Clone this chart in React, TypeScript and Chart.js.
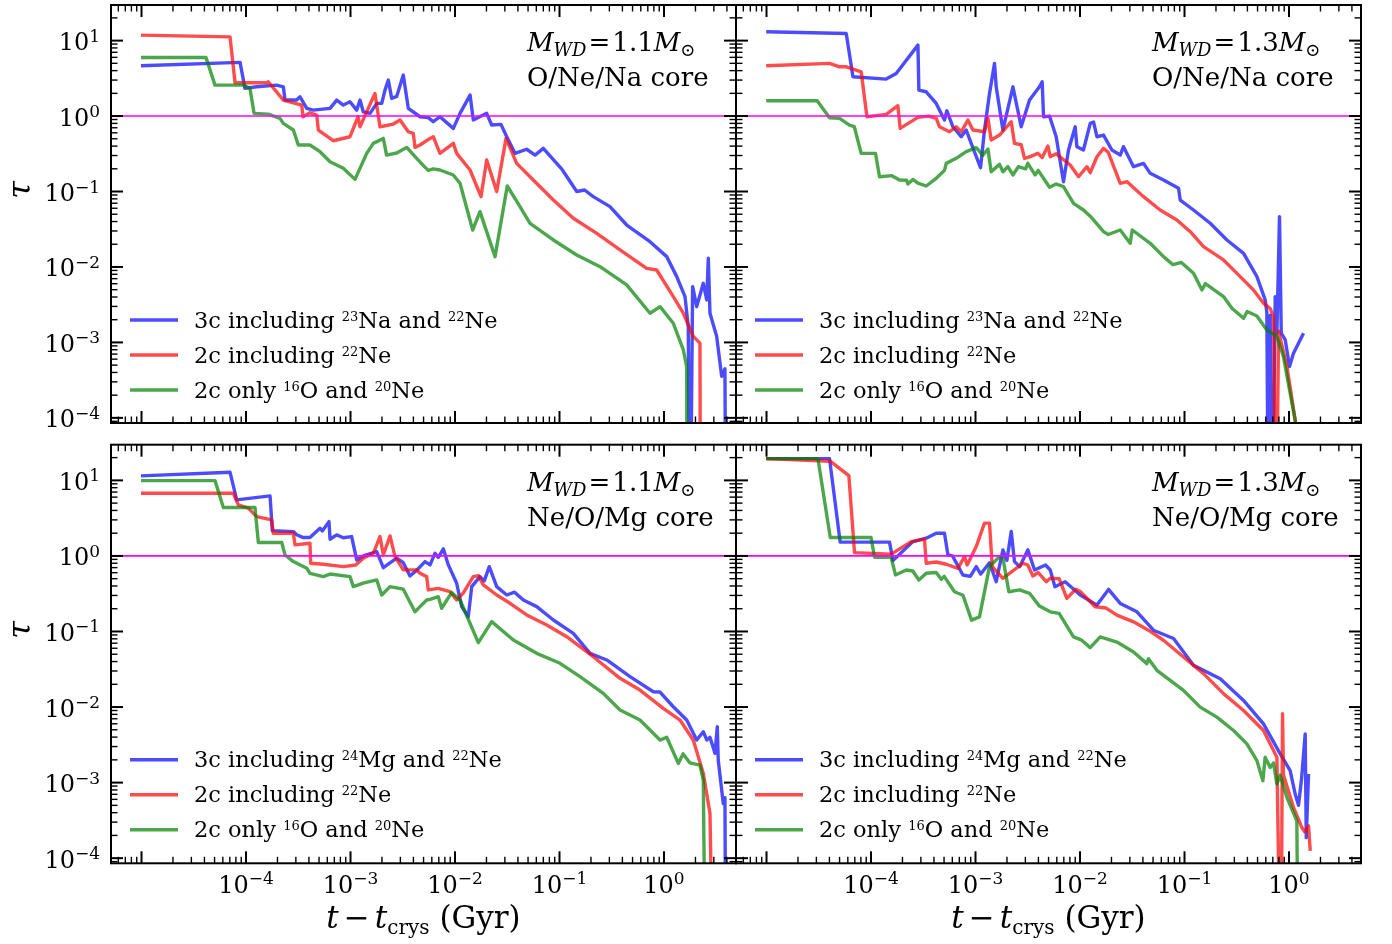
import React, { useEffect, useRef } from "react";
import { Chart, registerables } from "chart.js";

Chart.register(...registerables);

const PAGE_W = 1392;
const PAGE_H = 944;
const FONT = "'DejaVu Serif', 'Liberation Serif', serif";
const LINE_W = 3.4;

// Axis limits (log10 of t in Gyr and of tau)
const X_LOG_MIN = -5.292;
const X_LOG_MAX = 0.689;
const Y_LOG_MIN = -4.068;
const Y_LOG_MAX = 1.472;

const X_TICK_EXPONENTS = [-4, -3, -2, -1, 0];
const Y_TICK_EXPONENTS = [1, 0, -1, -2, -3, -4];
const TAU_REFERENCE = 1;

// Data: pairs of [log10(t - t_crys / Gyr), log10(tau)].
// Values below the axis (-6) mark the curves dropping out of the frame.
type P = [number, number];

// ---- top left: 1.1 Msun, O/Ne/Na core ----
const tlBlue: P[] = [
  [-5.005, 0.666], [-4.057, 0.711], [-4.01, 0.367], [-3.898, 0.388], [-3.706, 0.41], [-3.643, 0.388],
  [-3.627, 0.212], [-3.515, 0.212], [-3.483, 0.256], [-3.419, 0.102], [-3.356, 0.079], [-3.196, 0.102],
  [-3.132, 0.212], [-3.069, 0.146], [-3.005, 0.19], [-2.941, 0.079], [-2.909, 0.212], [-2.878, 0.057],
  [-2.813, 0.036], [-2.749, 0.168], [-2.701, 0.168], [-2.67, 0.344], [-2.638, 0.477], [-2.606, 0.234],
  [-2.558, 0.26], [-2.495, 0.543], [-2.447, 0.102], [-2.335, -0.009], [-2.256, -0.02], [-2.208, -0.075],
  [-2.144, -0.009], [-2.016, -0.163], [-1.952, 0.036], [-1.856, 0.278], [-1.825, -0.053], [-1.697, 0.036],
  [-1.649, -0.119], [-1.56, -0.11], [-1.505, -0.274], [-1.426, -0.494], [-1.314, -0.44], [-1.234, -0.517],
  [-1.155, -0.428], [-1.027, -0.627], [-0.98, -0.7], [-0.95, -0.76], [-0.835, -1.0], [-0.76, -0.98],
  [-0.677, -1.068], [-0.517, -1.2], [-0.357, -1.444], [-0.134, -1.665], [0.026, -1.863], [0.122, -2.128],
  [0.201, -2.393], [0.232, -2.79], [0.249, -6], [0.274, -2.26], [0.313, -2.526], [0.376, -2.216],
  [0.409, -2.437], [0.424, -1.885], [0.44, -2.613], [0.504, -2.92], [0.552, -3.45], [0.583, -3.35],
  [0.593, -6],
];
const tlRed: P[] = [
  [-5.005, 1.073], [-4.153, 1.05], [-4.105, 0.441], [-3.802, 0.441], [-3.787, 0.455], [-3.643, 0.212],
  [-3.467, 0.146], [-3.455, -0.009], [-3.388, 0.043], [-3.323, 0.013], [-3.308, -0.185], [-3.165, -0.327],
  [-3.005, -0.274], [-2.928, -0.009], [-2.909, -0.142], [-2.766, 0.3], [-2.718, -0.142], [-2.59, -0.106],
  [-2.526, -0.053], [-2.447, -0.208], [-2.399, -0.23], [-2.383, -0.415], [-2.335, -0.384], [-2.239, -0.296],
  [-2.208, -0.274], [-2.144, -0.494], [-2.016, -0.362], [-1.984, -0.494], [-1.856, -0.715], [-1.751, -1.069],
  [-1.697, -0.583], [-1.601, -1.0], [-1.512, -0.296], [-1.41, -0.627], [-1.251, -0.848], [-1.059, -1.113],
  [-0.868, -1.355], [-0.644, -1.554], [-0.421, -1.775], [-0.166, -2.018], [-0.07, -2.04], [0.089, -2.393],
  [0.185, -2.613], [0.28, -2.92], [0.344, -3.01], [0.35, -6],
];
const tlGreen: P[] = [
  [-5.005, 0.777], [-4.383, 0.777], [-4.297, 0.41], [-4.026, 0.41], [-3.962, 0.367], [-3.923, 0.036],
  [-3.787, 0.026], [-3.675, -0.03], [-3.643, -0.097], [-3.547, -0.185], [-3.5, -0.384], [-3.388, -0.384],
  [-3.292, -0.472], [-3.196, -0.605], [-3.069, -0.693], [-2.957, -0.839], [-2.845, -0.494], [-2.782, -0.362],
  [-2.686, -0.296], [-2.655, -0.517], [-2.558, -0.49], [-2.462, -0.415], [-2.367, -0.56], [-2.3, -0.66],
  [-2.256, -0.72], [-2.208, -0.7], [-2.144, -0.715], [-2.016, -0.781], [-1.952, -0.891], [-1.831, -1.51],
  [-1.761, -1.267], [-1.617, -1.863], [-1.5, -0.927], [-1.378, -1.2], [-1.282, -1.421], [-1.059, -1.642],
  [-0.835, -1.841], [-0.612, -1.996], [-0.357, -2.238], [-0.134, -2.613], [-0.038, -2.526], [0.089, -2.746],
  [0.185, -3.1], [0.217, -3.32], [0.222, -6],
];

// ---- top right: 1.3 Msun, O/Ne/Na core ----
const trBlue: P[] = [
  [-5.003, 1.117], [-4.237, 1.095], [-4.173, 0.521], [-3.855, 0.49], [-3.759, 0.565], [-3.551, 0.94],
  [-3.542, 0.344], [-3.472, 0.322], [-3.376, 0.168], [-3.297, -0.053], [-3.274, 0.07], [-3.216, -0.142],
  [-3.137, -0.274], [-3.089, -0.185], [-3.041, -0.362], [-2.952, -0.685], [-2.914, -0.185], [-2.866, 0.3],
  [-2.818, 0.698], [-2.802, 0.388], [-2.738, -0.185], [-2.642, 0.388], [-2.563, -0.142], [-2.483, 0.212],
  [-2.388, 0.388], [-2.362, 0.454], [-2.349, -0.009], [-2.292, 0.0], [-2.228, -0.274], [-2.158, -0.87],
  [-2.11, -0.45], [-2.046, -0.142], [-2.03, -0.406], [-1.967, -0.45], [-1.902, -0.097], [-1.87, -0.08],
  [-1.838, -0.274], [-1.775, -0.252], [-1.695, -0.45], [-1.615, -0.517], [-1.584, -0.406], [-1.488, -0.671],
  [-1.392, -0.627], [-1.328, -0.759], [-1.201, -0.848], [-1.057, -0.958], [-1.041, -1.113], [-0.914, -1.245],
  [-0.754, -1.421], [-0.594, -1.642], [-0.435, -1.819], [-0.307, -2.128], [-0.228, -2.437], [-0.212, -2.6],
  [-0.196, -6], [-0.18, -2.64], [-0.164, -6], [-0.132, -2.393], [-0.116, -2.878], [-0.091, -1.333],
  [-0.074, -2.878], [-0.036, -2.967], [0.005, -3.32], [0.043, -3.143], [0.139, -2.878],
];
const trRed: P[] = [
  [-5.003, 0.666], [-4.397, 0.698], [-4.301, 0.653], [-4.237, 0.653], [-4.094, 0.587], [-4.039, -0.009],
  [-3.855, 0.022], [-3.743, 0.137], [-3.721, -0.163], [-3.551, -0.018], [-3.45, 0.0], [-3.376, -0.03],
  [-3.344, -0.142], [-3.249, -0.208], [-3.185, -0.142], [-3.137, -0.208], [-3.073, -0.053], [-3.025, -0.185],
  [-2.914, -0.208], [-2.881, -0.03], [-2.85, -0.318], [-2.77, -0.252], [-2.658, -0.075], [-2.627, -0.362],
  [-2.563, -0.38], [-2.531, -0.56], [-2.483, -0.54], [-2.403, -0.494], [-2.362, -0.55], [-2.307, -0.397],
  [-2.285, -0.539], [-2.228, -0.5], [-2.094, -0.649], [-2.014, -0.804], [-1.934, -0.671], [-1.902, -0.75],
  [-1.838, -0.539], [-1.775, -0.428], [-1.73, -0.48], [-1.615, -0.891], [-1.55, -0.87], [-1.392, -1.068],
  [-1.233, -1.245], [-1.073, -1.377], [-0.945, -1.532], [-0.818, -1.731], [-0.627, -1.907], [-0.467, -2.128],
  [-0.34, -2.305], [-0.244, -2.48], [-0.18, -2.55], [-0.148, -2.66], [-0.125, -6], [-0.1, -2.85],
  [-0.02, -3.32], [0.059, -4.03], [0.08, -4.3],
];
const trGreen: P[] = [
  [-5.003, 0.203], [-4.515, 0.203], [-4.397, -0.022], [-4.301, -0.03], [-4.206, -0.119], [-4.16, -0.14],
  [-4.094, -0.494], [-3.957, -0.494], [-3.919, -0.804], [-3.8, -0.79], [-3.727, -0.848], [-3.66, -0.85],
  [-3.647, -0.9], [-3.6, -0.84], [-3.551, -0.89], [-3.472, -0.927], [-3.376, -0.825], [-3.297, -0.72],
  [-3.28, -0.627], [-3.185, -0.56], [-3.089, -0.472], [-2.993, -0.419], [-2.93, -0.52], [-2.881, -0.437],
  [-2.85, -0.738], [-2.77, -0.64], [-2.738, -0.738], [-2.69, -0.67], [-2.642, -0.781], [-2.59, -0.67],
  [-2.52, -0.7], [-2.499, -0.627], [-2.43, -0.78], [-2.4, -0.72], [-2.292, -0.944], [-2.228, -0.9],
  [-2.158, -0.936], [-2.062, -1.156], [-1.967, -1.245], [-1.9, -1.33], [-1.775, -1.532], [-1.73, -1.57],
  [-1.615, -1.51], [-1.52, -1.686], [-1.5, -1.51], [-1.328, -1.686], [-1.201, -1.863], [-1.11, -1.97],
  [-1.03, -1.94], [-0.914, -2.083], [-0.833, -2.305], [-0.8, -2.22], [-0.627, -2.393], [-0.546, -2.547],
  [-0.435, -2.68], [-0.4, -2.59], [-0.307, -2.65], [-0.212, -2.834], [-0.116, -2.923], [-0.053, -3.188],
  [0.011, -3.673], [0.059, -4.03], [0.08, -4.3],
];

// ---- bottom left: 1.1 Msun, Ne/O/Mg core ----
const blBlue: P[] = [
  [-5.005, 1.06], [-4.153, 1.108], [-4.089, 0.742], [-3.77, 0.795], [-3.748, 0.335], [-3.547, 0.322],
  [-3.515, 0.28], [-3.452, 0.243], [-3.388, 0.243], [-3.292, 0.367], [-3.27, 0.33], [-3.206, 0.454],
  [-3.196, 0.221], [-3.132, 0.278], [-3.069, 0.24], [-2.989, 0.256], [-2.941, -0.053], [-2.878, 0.0],
  [-2.749, 0.057], [-2.686, -0.155], [-2.558, -0.03], [-2.495, -0.09], [-2.431, -0.265], [-2.367, -0.19],
  [-2.287, -0.075], [-2.239, -0.119], [-2.191, 0.036], [-2.16, -0.02], [-2.111, 0.093], [-2.064, -0.119],
  [-1.984, -0.362], [-1.936, -0.671], [-1.873, -0.804], [-1.84, -0.406], [-1.761, -0.274], [-1.72, -0.33],
  [-1.672, -0.142], [-1.601, -0.406], [-1.505, -0.517], [-1.43, -0.48], [-1.346, -0.583], [-1.218, -0.671],
  [-1.059, -0.848], [-0.868, -1.024], [-0.708, -1.289], [-0.548, -1.377], [-0.325, -1.598], [-0.102, -1.797],
  [-0.04, -1.8], [0.089, -1.996], [0.217, -2.172], [0.313, -2.437], [0.376, -2.327], [0.41, -2.437],
  [0.44, -2.4], [0.488, -2.613], [0.51, -2.26], [0.519, -2.7], [0.567, -3.276], [0.583, -3.2], [0.593, -6],
];
const blRed: P[] = [
  [-5.005, 0.83], [-4.122, 0.83], [-4.074, 0.675], [-3.978, 0.632], [-3.898, 0.52], [-3.754, 0.477],
  [-3.739, 0.3], [-3.547, 0.3], [-3.531, 0.146], [-3.388, 0.168], [-3.381, -0.097], [-3.26, -0.11],
  [-3.069, -0.142], [-2.95, -0.12], [-2.878, -0.03], [-2.78, 0.04], [-2.718, 0.256], [-2.686, 0.013],
  [-2.622, 0.265], [-2.574, -0.01], [-2.495, -0.185], [-2.367, -0.185], [-2.335, -0.23], [-2.271, -0.274],
  [-2.256, -0.45], [-2.16, -0.43], [-2.048, -0.472], [-1.984, -0.583], [-1.92, -0.49], [-1.825, -0.274],
  [-1.777, -0.26], [-1.729, -0.384], [-1.601, -0.517], [-1.474, -0.627], [-1.314, -0.781], [-1.122, -0.914],
  [-0.931, -1.069], [-0.677, -1.334], [-0.421, -1.62], [-0.23, -1.775], [-0.007, -2.017], [0.153, -2.172],
  [0.28, -2.437], [0.376, -2.878], [0.44, -3.408], [0.472, -6],
];
const blGreen: P[] = [
  [-5.005, 0.997], [-4.297, 0.997], [-4.217, 0.64], [-3.914, 0.64], [-3.882, 0.177], [-3.658, 0.177],
  [-3.627, 0.013], [-3.547, -0.075], [-3.419, -0.163], [-3.388, -0.23], [-3.26, -0.274], [-3.196, -0.24],
  [-3.005, -0.274], [-2.973, -0.406], [-2.878, -0.36], [-2.749, -0.318], [-2.701, -0.517], [-2.622, -0.406],
  [-2.495, -0.44], [-2.383, -0.738], [-2.335, -0.671], [-2.271, -0.583], [-2.239, -0.574], [-2.16, -0.539],
  [-2.128, -0.693], [-2.032, -0.486], [-1.952, -0.583], [-1.777, -1.148], [-1.649, -0.87], [-1.442, -1.112],
  [-1.218, -1.289], [-0.995, -1.421], [-0.804, -1.598], [-0.581, -1.819], [-0.421, -2.04], [-0.23, -2.172],
  [-0.038, -2.437], [0.026, -2.4], [0.137, -2.746], [0.182, -2.62], [0.249, -2.74], [0.344, -2.768],
  [0.376, -2.967], [0.399, -6],
];

// ---- bottom right: 1.3 Msun, Ne/O/Mg core ----
const brBlue: P[] = [
  [-5.003, 1.288], [-4.397, 1.288], [-4.295, 0.182], [-3.823, 0.182], [-3.79, -0.062], [-3.599, 0.19],
  [-3.472, 0.235], [-3.376, 0.301], [-3.297, 0.301], [-3.264, 0.013], [-3.22, 0.0], [-3.121, -0.252],
  [-3.05, -0.27], [-2.993, -0.142], [-2.95, -0.24], [-2.866, -0.09], [-2.802, -0.341], [-2.738, 0.08],
  [-2.7, -0.06], [-2.658, 0.323], [-2.627, -0.075], [-2.578, -0.142], [-2.499, 0.08], [-2.435, -0.186],
  [-2.33, -0.12], [-2.285, -0.186], [-2.24, -0.407], [-2.142, -0.341], [-1.998, -0.518], [-1.838, -0.651],
  [-1.727, -0.443], [-1.615, -0.629], [-1.455, -0.739], [-1.297, -0.983], [-1.105, -1.093], [-0.914, -1.448],
  [-0.658, -1.625], [-0.435, -1.912], [-0.244, -2.222], [-0.084, -2.62], [0.011, -2.842], [0.059, -3.151],
  [0.091, -3.3], [0.12, -2.95], [0.155, -2.355], [0.165, -3.728], [0.187, -2.886],
];
const brRed: P[] = [
  [-5.003, 1.288], [-4.388, 1.252], [-4.212, 1.062], [-4.158, 0.044], [-3.807, 0.023], [-3.615, 0.19],
  [-3.488, 0.222], [-3.472, -0.097], [-3.376, -0.08], [-3.28, -0.11], [-3.169, -0.164], [-3.105, -0.009],
  [-3.08, -0.12], [-2.993, 0.124], [-2.914, 0.434], [-2.866, 0.434], [-2.84, -0.142], [-2.738, -0.296],
  [-2.546, -0.097], [-2.5, -0.12], [-2.451, -0.266], [-2.4, -0.22], [-2.323, -0.341], [-2.285, -0.296],
  [-2.2, -0.3], [-2.126, -0.562], [-2.04, -0.44], [-1.998, -0.47], [-1.855, -0.673], [-1.75, -0.69],
  [-1.647, -0.784], [-1.488, -0.872], [-1.345, -0.983], [-1.201, -1.116], [-1.01, -1.337], [-0.818, -1.558],
  [-0.627, -1.823], [-0.435, -2.045], [-0.244, -2.311], [-0.116, -2.665], [-0.078, -6], [-0.062, -2.089],
  [-0.053, -2.9], [0.043, -3.329], [0.123, -3.595], [0.15, -3.65], [0.187, -3.572], [0.203, -3.904],
];
const brGreen: P[] = [
  [-5.003, 1.288], [-4.508, 1.288], [-4.39, 0.243], [-4.0, 0.243], [-3.966, -0.018], [-3.807, -0.018],
  [-3.766, -0.252], [-3.663, -0.186], [-3.6, -0.2], [-3.542, -0.319], [-3.472, -0.23], [-3.376, -0.22],
  [-3.328, -0.31], [-3.3, -0.27], [-3.201, -0.474], [-3.12, -0.52], [-3.038, -0.85], [-2.962, -0.806],
  [-2.866, -0.142], [-2.77, -0.009], [-2.74, -0.009], [-2.681, -0.474], [-2.578, -0.45], [-2.483, -0.495],
  [-2.388, -0.664], [-2.285, -0.74], [-2.2, -0.76], [-2.062, -1.072], [-1.99, -1.11], [-1.902, -1.213],
  [-1.807, -1.072], [-1.647, -1.14], [-1.488, -1.271], [-1.36, -1.425], [-1.345, -1.36], [-1.264, -1.514],
  [-1.137, -1.647], [-1.01, -1.78], [-0.85, -2.001], [-0.69, -2.134], [-0.531, -2.311], [-0.403, -2.487],
  [-0.307, -2.709], [-0.25, -2.975], [-0.228, -2.665], [-0.18, -2.8], [-0.148, -2.74], [-0.116, -3.019],
  [-0.084, -2.9], [-0.02, -3.197], [0.075, -3.506], [0.091, -6],
];

const LEGEND_NA = ["3c including ^{23}Na and ^{22}Ne", "2c including ^{22}Ne", "2c only ^{16}O and ^{20}Ne"];
const LEGEND_MG = ["3c including ^{24}Mg and ^{22}Ne", "2c including ^{22}Ne", "2c only ^{16}O and ^{20}Ne"];
const SERIES_COLORS = ["rgba(0,0,255,0.7)", "rgba(255,0,0,0.7)", "rgba(0,128,0,0.7)"];

interface PanelCfg {
  id: string;
  box: { left: number; top: number; right: number; bottom: number };
  mass: string;
  core: string;
  legend: string[];
  series: P[][];
  xLabels: boolean;
  yLabels: boolean;
}

const PANELS: PanelCfg[] = [
  { id: "tl", box: { left: 111, top: 5, right: 736, bottom: 423 }, mass: "1.1", core: "O/Ne/Na core", legend: LEGEND_NA, series: [tlBlue, tlRed, tlGreen], xLabels: false, yLabels: true },
  { id: "tr", box: { left: 736, top: 5, right: 1361, bottom: 423 }, mass: "1.3", core: "O/Ne/Na core", legend: LEGEND_NA, series: [trBlue, trRed, trGreen], xLabels: false, yLabels: false },
  { id: "bl", box: { left: 111, top: 444.7, right: 736, bottom: 863.3 }, mass: "1.1", core: "Ne/O/Mg core", legend: LEGEND_MG, series: [blBlue, blRed, blGreen], xLabels: true, yLabels: true },
  { id: "br", box: { left: 736, top: 444.7, right: 1361, bottom: 863.3 }, mass: "1.3", core: "Ne/O/Mg core", legend: LEGEND_MG, series: [brBlue, brRed, brGreen], xLabels: true, yLabels: false },
];

interface Seg { t: string; size: number; italic?: boolean; dy?: number; pad?: number }

function fontOf(s: Seg) {
  return `${s.italic ? "italic " : ""}${s.size}px ${FONT}`;
}

function drawSegs(ctx: CanvasRenderingContext2D, segs: Seg[], x: number, y: number, align: "left" | "center" | "right") {
  const widths = segs.map((s) => {
    ctx.font = fontOf(s);
    return ctx.measureText(s.t).width + (s.pad || 0) * 2;
  });
  const total = widths.reduce((a, b) => a + b, 0);
  let cx = align === "left" ? x : align === "center" ? x - total / 2 : x - total;
  ctx.textAlign = "left";
  ctx.textBaseline = "alphabetic";
  segs.forEach((s, i) => {
    ctx.font = fontOf(s);
    ctx.fillText(s.t, cx + (s.pad || 0), y + (s.dy || 0));
    cx += widths[i];
  });
}

function parseSup(text: string, size: number, supSize: number, supDy: number): Seg[] {
  const out: Seg[] = [];
  const re = /\^\{([^}]*)\}/g;
  let last = 0;
  let m: RegExpExecArray | null;
  while ((m = re.exec(text))) {
    if (m.index > last) out.push({ t: text.slice(last, m.index), size });
    out.push({ t: m[1], size: supSize, dy: supDy });
    last = m.index + m[0].length;
  }
  if (last < text.length) out.push({ t: text.slice(last), size });
  return out;
}

function powerLabel(e: number): Seg[] {
  return [
    { t: "10", size: 24 },
    { t: e < 0 ? "\u2212" + Math.abs(e) : String(e), size: 17, dy: -8.5 },
  ];
}

function makeDecor(p: PanelCfg) {
  return {
    id: "decor_" + p.id,
    afterDraw(chart: any) {
      const ctx: CanvasRenderingContext2D = chart.ctx;
      const xs = chart.scales.x;
      const ys = chart.scales.y;
      const { left, right, top, bottom } = chart.chartArea;
      ctx.save();
      ctx.strokeStyle = "#000";
      ctx.fillStyle = "#000";
      ctx.lineCap = "butt";

      const seg = (x1: number, y1: number, x2: number, y2: number) => {
        ctx.beginPath();
        ctx.moveTo(x1, y1);
        ctx.lineTo(x2, y2);
        ctx.stroke();
      };

      // inward ticks on all four sides
      for (let e = Math.floor(X_LOG_MIN); e <= Math.ceil(X_LOG_MAX); e++) {
        for (let m = 1; m <= 9; m++) {
          const v = m * Math.pow(10, e);
          if (v < xs.min || v > xs.max) continue;
          const px = xs.getPixelForValue(v);
          const len = m === 1 ? 12 : 6.5;
          ctx.lineWidth = m === 1 ? 2 : 1.4;
          seg(px, bottom, px, bottom - len);
          seg(px, top, px, top + len);
        }
      }
      for (let e = Math.floor(Y_LOG_MIN); e <= Math.ceil(Y_LOG_MAX); e++) {
        for (let m = 1; m <= 9; m++) {
          const v = m * Math.pow(10, e);
          if (v < ys.min || v > ys.max) continue;
          const py = ys.getPixelForValue(v);
          const len = m === 1 ? 12 : 6.5;
          ctx.lineWidth = m === 1 ? 2 : 1.4;
          seg(left, py, left + len, py);
          seg(right, py, right - len, py);
        }
      }

      // frame
      ctx.lineWidth = 2;
      ctx.strokeRect(left, top, right - left, bottom - top);

      // tick labels
      if (p.yLabels) {
        Y_TICK_EXPONENTS.forEach((e) => {
          const py = ys.getPixelForValue(Math.pow(10, e));
          drawSegs(ctx, powerLabel(e), left - 11, py + 9.5, "right");
        });
        ctx.save();
        ctx.translate(22, (top + bottom) / 2 - 24);
        ctx.rotate(-Math.PI / 2);
        ctx.font = `italic 32px ${FONT}`;
        ctx.textAlign = "center";
        ctx.textBaseline = "middle";
        ctx.fillText("\u03c4", 0, 0);
        ctx.restore();
      }
      if (p.xLabels) {
        X_TICK_EXPONENTS.forEach((e) => {
          const px = xs.getPixelForValue(Math.pow(10, e));
          drawSegs(ctx, powerLabel(e), px, bottom + 29.5, "center");
        });
        drawSegs(
          ctx,
          [
            { t: "t", size: 31, italic: true },
            { t: "\u2212", size: 31, pad: 5 },
            { t: "t", size: 31, italic: true },
            { t: "crys", size: 20, dy: 6 },
            { t: " (Gyr)", size: 31 },
          ],
          (left + right) / 2,
          bottom + 65,
          "center"
        );
      }

      // annotation
      const ax = left + 416;
      drawSegs(
        ctx,
        [
          { t: "M", size: 26, italic: true },
          { t: "WD", size: 18, italic: true, dy: 5 },
          { t: "=", size: 26, pad: 2 },
          { t: p.mass, size: 26 },
          { t: "M", size: 26, italic: true },
          { t: "\u2299", size: 18, dy: 5 },
        ],
        ax,
        top + 46,
        "left"
      );
      drawSegs(ctx, [{ t: p.core, size: 26 }], ax, top + 81, "left");

      // legend
      p.legend.forEach((label, i) => {
        const ly = top + 315 + i * 35;
        ctx.strokeStyle = SERIES_COLORS[i];
        ctx.lineWidth = LINE_W;
        seg(left + 19, ly, left + 67, ly);
        ctx.fillStyle = "#000";
        drawSegs(ctx, parseSup(label, 22.5, 13, -7), left + 83, ly + 7.5, "left");
      });

      ctx.restore();
    },
  };
}

function buildConfig(p: PanelCfg): any {
  const xMin = Math.pow(10, X_LOG_MIN);
  const xMax = Math.pow(10, X_LOG_MAX);
  const toXY = (arr: P[]) => arr.map(([lt, ly]) => ({ x: Math.pow(10, lt), y: Math.pow(10, ly) }));
  const common = { pointRadius: 0, tension: 0, fill: false, borderJoinStyle: "round", clip: 0 };
  const datasets = [
    {
      ...common,
      label: "tau = 1",
      data: [{ x: xMin, y: TAU_REFERENCE }, { x: xMax, y: TAU_REFERENCE }],
      borderColor: "#ff00ff",
      borderWidth: 1.6,
    },
    { ...common, label: "green", data: toXY(p.series[2]), borderColor: SERIES_COLORS[2], borderWidth: LINE_W },
    { ...common, label: "red", data: toXY(p.series[1]), borderColor: SERIES_COLORS[1], borderWidth: LINE_W },
    { ...common, label: "blue", data: toXY(p.series[0]), borderColor: SERIES_COLORS[0], borderWidth: LINE_W },
  ];
  return {
    type: "line",
    data: { datasets },
    options: {
      animation: false,
      responsive: false,
      events: [],
      layout: {
        padding: {
          left: p.box.left,
          top: p.box.top,
          right: PAGE_W - p.box.right,
          bottom: PAGE_H - p.box.bottom,
        },
      },
      plugins: { legend: { display: false }, tooltip: { enabled: false } },
      scales: {
        x: { type: "logarithmic", min: xMin, max: xMax, bounds: "data", display: false },
        y: { type: "logarithmic", min: Math.pow(10, Y_LOG_MIN), max: Math.pow(10, Y_LOG_MAX), bounds: "data", display: false },
      },
    },
    plugins: [makeDecor(p)],
  };
}

function Panel({ cfg }: { cfg: PanelCfg }) {
  const ref = useRef<HTMLCanvasElement>(null);
  useEffect(() => {
    const chart = new Chart(ref.current as HTMLCanvasElement, buildConfig(cfg));
    return () => chart.destroy();
  }, [cfg]);
  return (
    <canvas
      ref={ref}
      width={PAGE_W}
      height={PAGE_H}
      style={{ position: "absolute", left: 0, top: 0, width: PAGE_W, height: PAGE_H }}
    />
  );
}

export default function App() {
  return (
    <div style={{ position: "absolute", left: 0, top: 0, width: PAGE_W, height: PAGE_H, background: "#fff", overflow: "hidden" }}>
      {PANELS.map((p) => (
        <Panel key={p.id} cfg={p} />
      ))}
    </div>
  );
}
